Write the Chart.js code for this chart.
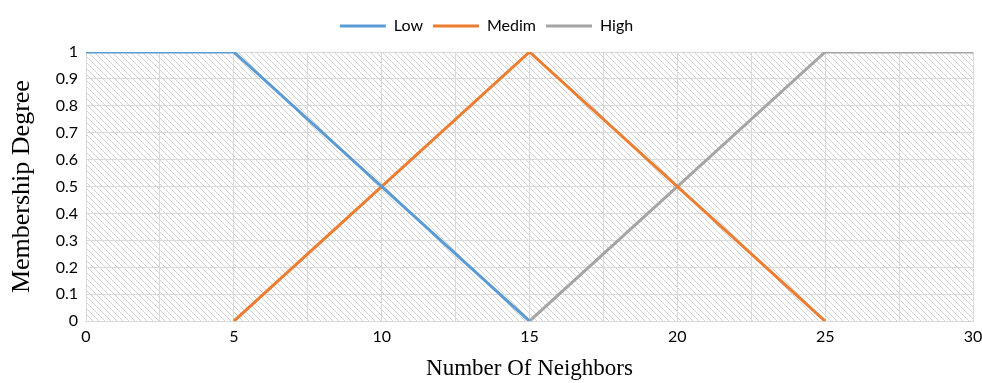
<!DOCTYPE html>
<html>
<head>
<meta charset="utf-8">
<script src="https://cdn.jsdelivr.net/npm/chart.js@4.4.1/dist/chart.umd.min.js"></script>
<style>
  html, body { margin: 0; padding: 0; background: #fff; }
  #wrap { width: 982px; height: 383px; position: relative; }
</style>
</head>
<body>
<div id="wrap"><canvas id="c" width="982" height="383"></canvas></div>
<script>
// Membership functions for "Number Of Neighbors"
const seriesNames = ['Low', 'Medim', 'High'];
const lowX = [0, 5, 15];
const lowY = [1, 1, 0];
const medX = [5, 15, 25];
const medY = [0, 1, 0];
const highX = [15, 25, 30];
const highY = [0, 1, 1];
const colors = ['#5B9BD5', '#ED7D31', '#A5A5A5'];
const xTickLabels = [0, 5, 10, 15, 20, 25, 30];

const toPoints = (xs, ys) => xs.map((x, i) => ({ x: x, y: ys[i] }));

// Diagonal hatch fill behind the plot area
function makeHatch() {
  const s = 6;
  const p = document.createElement('canvas');
  p.width = s; p.height = s;
  const g = p.getContext('2d');
  g.strokeStyle = '#d4d4d4';
  g.lineWidth = 1;
  g.beginPath();
  g.moveTo(0, 0); g.lineTo(s, s);
  g.moveTo(-1, s - 1); g.lineTo(1, s + 1);
  g.moveTo(s - 1, -1); g.lineTo(s + 1, 1);
  g.stroke();
  return p;
}

const hatchPlugin = {
  id: 'hatch',
  beforeDraw(chart) {
    const { ctx, chartArea: a } = chart;
    ctx.save();
    ctx.fillStyle = ctx.createPattern(makeHatch(), 'repeat');
    ctx.fillRect(a.left, a.top, a.right - a.left, a.bottom - a.top);
    ctx.restore();
  }
};

// Extra gap between the legend row and the plot
const legendGap = {
  id: 'legendGap',
  afterInit(chart) {
    const lg = chart.legend;
    if (!lg) return;
    const fit = lg.fit.bind(lg);
    lg.fit = function () { fit(); this.height += 8; };
  }
};

const datasets = [
  { label: seriesNames[0], data: toPoints(lowX, lowY) },
  { label: seriesNames[1], data: toPoints(medX, medY) },
  { label: seriesNames[2], data: toPoints(highX, highY) }
].map((d, i) => Object.assign(d, {
  borderColor: colors[i],
  backgroundColor: colors[i],
  borderWidth: 3,
  pointRadius: 0,
  pointStyle: 'line',
  tension: 0,
  fill: false
}));

const tickFont = { family: 'Lato, "Open Sans", sans-serif', size: 16 };
const titleFamily = '"Liberation Serif", "Times New Roman", serif';

new Chart(document.getElementById('c'), {
  type: 'line',
  data: { datasets },
  plugins: [hatchPlugin, legendGap],
  options: {
    responsive: false,
    animation: false,
    layout: { padding: { left: 0, right: 9, top: 8, bottom: 0 } },
    plugins: {
      tooltip: { enabled: false },
      legend: {
        position: 'top',
        labels: {
          usePointStyle: true,
          pointStyleWidth: 46,
          boxHeight: 16,
          padding: 10,
          color: '#000',
          font: { family: 'Lato, "Open Sans", sans-serif', size: 16 }
        }
      }
    },
    scales: {
      x: {
        type: 'linear',
        min: 0, max: 30,
        border: { color: '#d9d9d9' },
        grid: { color: '#d9d9d9', drawTicks: false },
        ticks: {
          stepSize: 2.5,
          autoSkip: false,
          maxRotation: 0,
          padding: 6,
          color: '#000',
          font: tickFont,
          callback: v => (xTickLabels.includes(v) ? String(v) : '')
        },
        title: {
          display: true,
          text: 'Number Of Neighbors',
          color: '#000',
          font: { family: titleFamily, size: 23 },
          padding: { top: 3, bottom: 0 }
        },
        afterFit(scale) { scale.paddingRight = 0; }
      },
      y: {
        min: 0, max: 1,
        border: { color: '#d9d9d9' },
        grid: { color: '#d9d9d9', drawTicks: false },
        ticks: {
          stepSize: 0.1,
          padding: 8,
          color: '#000',
          font: tickFont,
          callback: v => String(Math.round(v * 10) / 10)
        },
        title: {
          display: true,
          text: 'Membership Degree',
          color: '#000',
          font: { family: titleFamily, size: 26 },
          padding: { top: 7, bottom: 0 }
        },
        afterFit(scale) { scale.width = 86; }
      }
    }
  }
});
</script>
</body>
</html>
